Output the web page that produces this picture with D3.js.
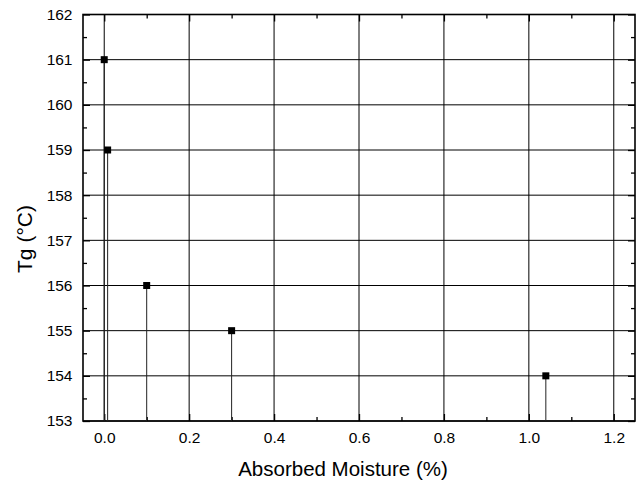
<!DOCTYPE html>
<html><head><meta charset="utf-8">
<script src="https://cdn.jsdelivr.net/npm/d3@7"></script>
<style>body{margin:0;background:#fff}svg{display:block}text{font-family:Arial,"Liberation Sans",sans-serif;fill:#000}</style>
</head><body>
<script>
const moisture = [0.0, 0.008, 0.1, 0.3, 1.04];
const tg = [161, 159, 156, 155, 154];
const xTicks = [0.0, 0.2, 0.4, 0.6, 0.8, 1.0, 1.2];
const yTicks = [153, 154, 155, 156, 157, 158, 159, 160, 161, 162];
const xTitle = "Absorbed Moisture (%)";
const yTitle = "Tg (°C)";

const W = 642, H = 484;
const L = 83, R = 635, T = 14.5, B = 421;
const svg = d3.select("body").append("svg").attr("width", W).attr("height", H);
const x = d3.scaleLinear().domain([-0.05, 1.25]).range([L, R]);
const y = d3.scaleLinear().domain([153, 162]).range([B, T]);

const xMinor = d3.range(-0.0, 1.25, 0.1).filter(v => !xTicks.some(t => Math.abs(t - v) < 1e-6));
const yMinor = d3.range(153.5, 162, 1);

// grid
const g = svg.append("g");
g.selectAll(".vg").data(xTicks).join("line")
  .attr("x1", d => x(d)).attr("x2", d => x(d)).attr("y1", T).attr("y2", B)
  .attr("stroke", "#000").attr("stroke-width", 1);
g.selectAll(".hg").data(yTicks).join("line")
  .attr("x1", L).attr("x2", R).attr("y1", d => y(d)).attr("y2", d => y(d))
  .attr("stroke", "#000").attr("stroke-width", 1);

// axes with inward ticks
const axB = d3.axisBottom(x).tickValues(xTicks).tickFormat(d3.format(".1f")).tickSizeInner(-7).tickSizeOuter(0).tickPadding(11);
const axT = d3.axisTop(x).tickValues(xTicks).tickFormat("").tickSizeInner(-7).tickSizeOuter(0);
const axL = d3.axisLeft(y).tickValues(yTicks).tickFormat(d3.format("d")).tickSizeInner(-7).tickSizeOuter(0).tickPadding(10.5);
const axR = d3.axisRight(y).tickValues(yTicks).tickFormat("").tickSizeInner(-7).tickSizeOuter(0);
const axBm = d3.axisBottom(x).tickValues(xMinor).tickFormat("").tickSizeInner(-4).tickSizeOuter(0);
const axTm = d3.axisTop(x).tickValues(xMinor).tickFormat("").tickSizeInner(-4).tickSizeOuter(0);
const axLm = d3.axisLeft(y).tickValues(yMinor).tickFormat("").tickSizeInner(-4).tickSizeOuter(0);
const axRm = d3.axisRight(y).tickValues(yMinor).tickFormat("").tickSizeInner(-4).tickSizeOuter(0);

function put(ax, tr) {
  const a = svg.append("g").attr("transform", tr).call(ax);
  a.select(".domain").remove();
  a.selectAll("line").attr("stroke", "#000").attr("stroke-width", 1.3);
  a.selectAll("text").attr("font-size", 15.5).attr("font-family", "Arial, 'Liberation Sans', sans-serif").attr("fill", "#000");
  return a;
}
put(axB, `translate(0,${B})`);
put(axT, `translate(0,${T})`);
put(axL, `translate(${L},0)`);
put(axR, `translate(${R},0)`);
put(axBm, `translate(0,${B})`);
put(axTm, `translate(0,${T})`);
put(axLm, `translate(${L},0)`);
put(axRm, `translate(${R},0)`);

// frame
svg.append("rect").attr("x", L).attr("y", T).attr("width", R - L).attr("height", B - T)
  .attr("fill", "none").attr("stroke", "#000").attr("stroke-width", 1.6);

// drop lines
const data = moisture.map((m, i) => ({ m, t: tg[i] }));
svg.selectAll(".drop").data(data).join("line")
  .attr("x1", d => x(d.m)).attr("x2", d => x(d.m)).attr("y1", d => y(d.t)).attr("y2", B)
  .attr("stroke", "#222").attr("stroke-width", 1);

// markers
const s = 7;
svg.selectAll(".pt").data(data).join("rect")
  .attr("x", d => x(d.m) - s / 2).attr("y", d => y(d.t) - s / 2)
  .attr("width", s).attr("height", s).attr("fill", "#000");

// titles
svg.append("text").attr("x", 343).attr("y", 476).attr("text-anchor", "middle")
  .attr("font-size", 20.5).text(xTitle);
svg.append("text").attr("transform", `translate(31.5,239) rotate(-90)`)
  .attr("text-anchor", "middle").attr("font-size", 21).text(yTitle);
</script>
</body></html>
